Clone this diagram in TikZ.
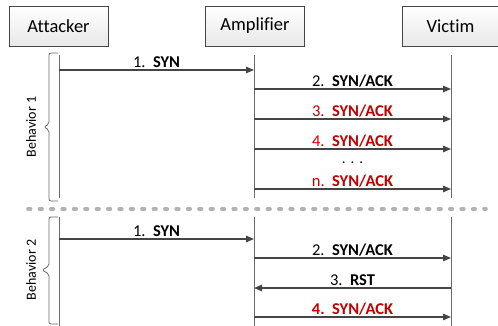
\documentclass[tikz,border=0pt]{standalone}
\usepackage{fontspec}
\setmainfont{Carlito}[Ligatures={NoCommon}]
\usetikzlibrary{arrows.meta}
\definecolor{lnc}{HTML}{454545}
\definecolor{lifec}{HTML}{6A6A6A}
\definecolor{redc}{HTML}{C00000}
\definecolor{dashc}{HTML}{B2B2B2}
\definecolor{boxb}{HTML}{E8E8E8}
\begin{document}
\begin{tikzpicture}[x=1pt,y=-1pt,
 actor/.style={draw=lnc, line width=0.8pt, top color=white, bottom color=boxb,
   minimum width=99pt, minimum height=40pt, font=\fontsize{18.5}{20}\selectfont, inner sep=0pt},
 life/.style={draw=lifec, line width=0.9pt},
 msg/.style={draw=lnc, line width=1.2pt, -{Triangle[length=8pt,width=6.5pt]}},
 lbl/.style={font=\fontsize{16.5}{18}\selectfont, anchor=base, yshift=2.6pt, inner sep=0pt},
 brc/.style={draw=lifec, line width=0.8pt, rounded corners=2pt},
 beh/.style={font=\fontsize{14}{15}\selectfont, rotate=90, inner sep=0pt},
 sep/.style={draw=dashc, line width=3.6pt, line cap=round, dash pattern=on 2.6pt off 8.8pt}
]
\useasboundingbox (0,0) rectangle (498,325);
% actors
\node[actor] (att) at (58.5,26) {Attacker};
\node[actor] (amp) at (255,26) {Amplifier};
\node[actor, minimum width=97pt] (vic) at (450.5,26) {Victim};
% lifelines
\coordinate (a1t) at (59,55);  \coordinate (a1b) at (59,198);
\coordinate (b1t) at (254,55); \coordinate (b1b) at (254,198);
\coordinate (v1t) at (451,55); \coordinate (v1b) at (451,198);
\coordinate (a2t) at (59,217);  \coordinate (a2b) at (59,326);
\coordinate (b2t) at (254,217); \coordinate (b2b) at (254,326);
\coordinate (v2t) at (451,217); \coordinate (v2b) at (451,326);
\foreach \p in {a1,b1,v1,a2,b2,v2} \draw[life] (\p t) -- (\p b);
% behavior 1
\draw[msg] (a1t |- 0,70) -- node[lbl] {1.~~\textbf{SYN}} (b1t |- 0,70);
\draw[msg] (b1t |- 0,89) -- node[lbl] {2.~~\textbf{SYN/ACK}} (v1t |- 0,89);
\draw[msg] (b1t |- 0,119) -- node[lbl, text=redc] {3.~~\textbf{SYN/ACK}} (v1t |- 0,119);
\draw[msg] (b1t |- 0,149) -- node[lbl, text=redc] {4.~~\textbf{SYN/ACK}} (v1t |- 0,149);
\node[font=\fontsize{15}{17}\selectfont, inner sep=0pt, anchor=base] (dots) at (352.5,163) {.\,\,.\,\,.};
\draw[msg] (b1t |- 0,189) -- node[lbl, text=redc] {n.~~\textbf{SYN/ACK}} (v1t |- 0,189);
% separator
\coordinate (dl) at (28,209); \coordinate (dr) at (486,209);
\draw[sep] (dl) -- (dr);
% behavior 2
\draw[msg] (a2t |- 0,239) -- node[lbl] {1.~~\textbf{SYN}} (b2t |- 0,239);
\draw[msg] (b2t |- 0,258) -- node[lbl] {2.~~\textbf{SYN/ACK}} (v2t |- 0,258);
\draw[msg] (v2t |- 0,288) -- node[lbl] {3.~~\textbf{RST}} (b2t |- 0,288);
\draw[msg] (b2t |- 0,317) -- node[lbl, text=redc] {\textbf{4.~~SYN/ACK}} (v2t |- 0,317);
% braces
\draw[brc] (58,53) -- (49,53) -- (49,124) -- (44,127) -- (49,130) -- (49,201) -- (58,201);
\draw[brc] (58,217) -- (49,217) -- (49,266) -- (42,270) -- (49,274) -- (49,324) -- (58,324);
\node[beh] (beh1) at (31,127) {Behavior 1};
\node[beh] (beh2) at (31,270) {Behavior 2};
\end{tikzpicture}
\end{document}
